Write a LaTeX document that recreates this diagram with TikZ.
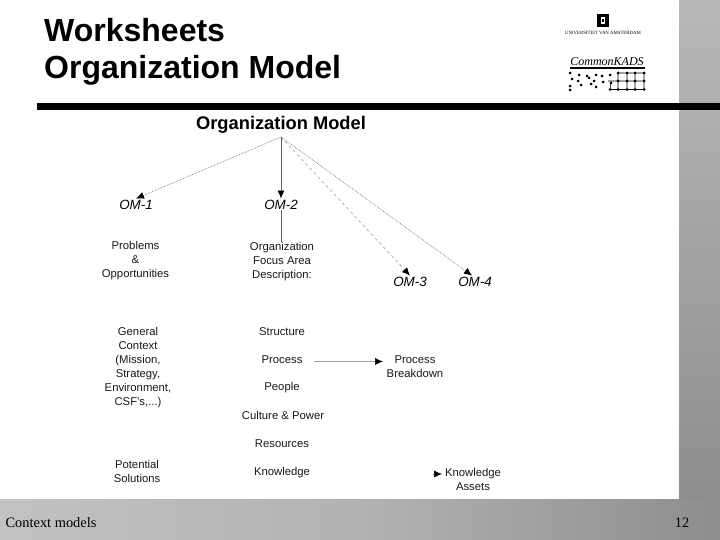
\documentclass[tikz,border=0pt]{standalone}
\usepackage{fontspec}
\setmainfont{Liberation Sans}
\newfontfamily\serifface{Liberation Serif}
\usetikzlibrary{arrows.meta,shadings}
\definecolor{bandlight}{HTML}{C2C2C2}
\definecolor{banddark}{HTML}{8E8E8E}
\definecolor{lineg}{HTML}{606060}
\tikzset{
 x=1pt,y=-1pt,
 lab/.style={font=\fontsize{11.3}{14}\selectfont,align=center,inner sep=1pt,text=black!90},
 om/.style={font=\fontsize{13.4}{15}\selectfont\itshape,inner sep=1pt,text=black},
 ttl/.style={font=\fontsize{32}{37}\selectfont\bfseries,anchor=base west,inner sep=0pt},
 foot/.style={font=\fontsize{14.4}{16}\selectfont\serifface,anchor=base,inner sep=0pt},
 tip/.style={-{Latex[length=8pt,width=7pt,color=black]}},
 thinline/.style={tip,draw=lineg,line width=0.6pt},
 dot/.style={fill=black,draw=none},
}
\begin{document}
\begin{tikzpicture}
\useasboundingbox (0,0) rectangle (720,540);
\fill[white] (0,0) rectangle (720,540);
% grey bands
\shade[top color=bandlight!95!black,bottom color=banddark] (679,0) rectangle (720,499);
\shade[left color=bandlight,right color=banddark,middle color=bandlight!92!black] (0,499) rectangle (720,540);
% rule
\fill[black] (37,103) rectangle (720,110);
% title
\node[ttl] (t1) at (44,42) {Worksheets};
\node[ttl] (t2) at (44,79) {Organization Model};
% logos
\fill[black] (597,14) rectangle (609,27);
\fill[white] (601,17) rectangle (605,24);
\fill[black] (602,19) rectangle (604,22);
\node[font=\fontsize{4.8}{6}\selectfont\serifface,inner sep=0pt] (uva) at (603,33) {UNIVERSITEIT VAN AMSTERDAM};
\node[font=\fontsize{12}{13}\selectfont\serifface\itshape,inner sep=0pt] (ck) at (607,61.5) {CommonKADS};
\fill[black] (570,67.5) rectangle (645,69);
\draw[black,line width=0.6pt] (618,73) -- (645,73) (608,81) -- (645,81) (610,89.5) -- (645,89.5)
  (618,73) -- (618,89.5) (627,73) -- (627,89.5) (635,73) -- (635,89.5) (644,73) -- (644,89.5) (611,82) -- (610,89.5);
\foreach \px/\py in {570/73,579/75,587/76,596/75,602/76,610/75,618/73,627/73,635/73,644/73,
  572/79,578/81,589/78,594/81,603/82,611/83,618/81,627/81,635/81,644/81,
  570/86,581/85,591/84,596/87,610/89.5,618/89.5,627/89.5,635/89.5,644/89.5,570/90}
  \fill[dot] (\px,\py) circle (1.5);
% diagram
\node[font=\fontsize{18.3}{20}\selectfont\bfseries,inner sep=0pt,text depth=3pt] (root) at (281,124.5) {Organization Model};
\node[om] (om1) at (136,204.5) {OM-1};
\node[om] (om2) at (281,204.5) {OM-2};
\node[om] (om3) at (410,281.5) {OM-3};
\node[om] (om4) at (475,281.5) {OM-4};
\node[lab] (prob) at (135.5,261) {Problems\\\&\\Opportunities};
\node[lab] (org) at (282,262) {Organization\\Focus Area\\Description:};
\node[lab] (gen) at (138,368) {General\\Context\\(Mission,\\Strategy,\\Environment,\\CSF's,...)};
\node[lab] (pot) at (137,471) {Potential\\Solutions};
\node[lab] (str) at (282,331.5) {Structure};
\node[lab] (proc) at (282,359.5) {Process};
\node[lab] (peop) at (282,387.5) {People};
\node[lab] (cult) at (283,415.5) {Culture \& Power};
\node[lab] (res) at (282,443.5) {Resources};
\node[lab] (know) at (282,473) {Knowledge};
\node[lab] (brk) at (415,367) {Process\\Breakdown};
\node[lab] (ka) at (473,479.5) {Knowledge\\Assets};
\coordinate (apex) at (281,137);
\coordinate (p1) at (314,361.5);
\coordinate (p2) at (383,361.5);
\coordinate (k1) at (433,474);
\coordinate (k2) at (442,474);
\draw[thinline,densely dotted] (apex) -- (om1.north);
\draw[thinline] (apex) -- (om2.north);
\draw[thinline,dashed,draw=lineg!60] (apex) -- (om3.north);
\draw[thinline,densely dotted] (apex) -- ([xshift=-3]om4.north);
\draw[draw=lineg,line width=0.6pt] (om2.south) -- (om2.south |- org.north);
\draw[thinline,draw=lineg!60] (p1) -- (p2);
\draw[thinline] (k1) -- (k2);
% footer
\node[foot] (fl) at (51,527) {Context models};
\node[foot] (fr) at (682,527) {12};
\end{tikzpicture}
\end{document}
